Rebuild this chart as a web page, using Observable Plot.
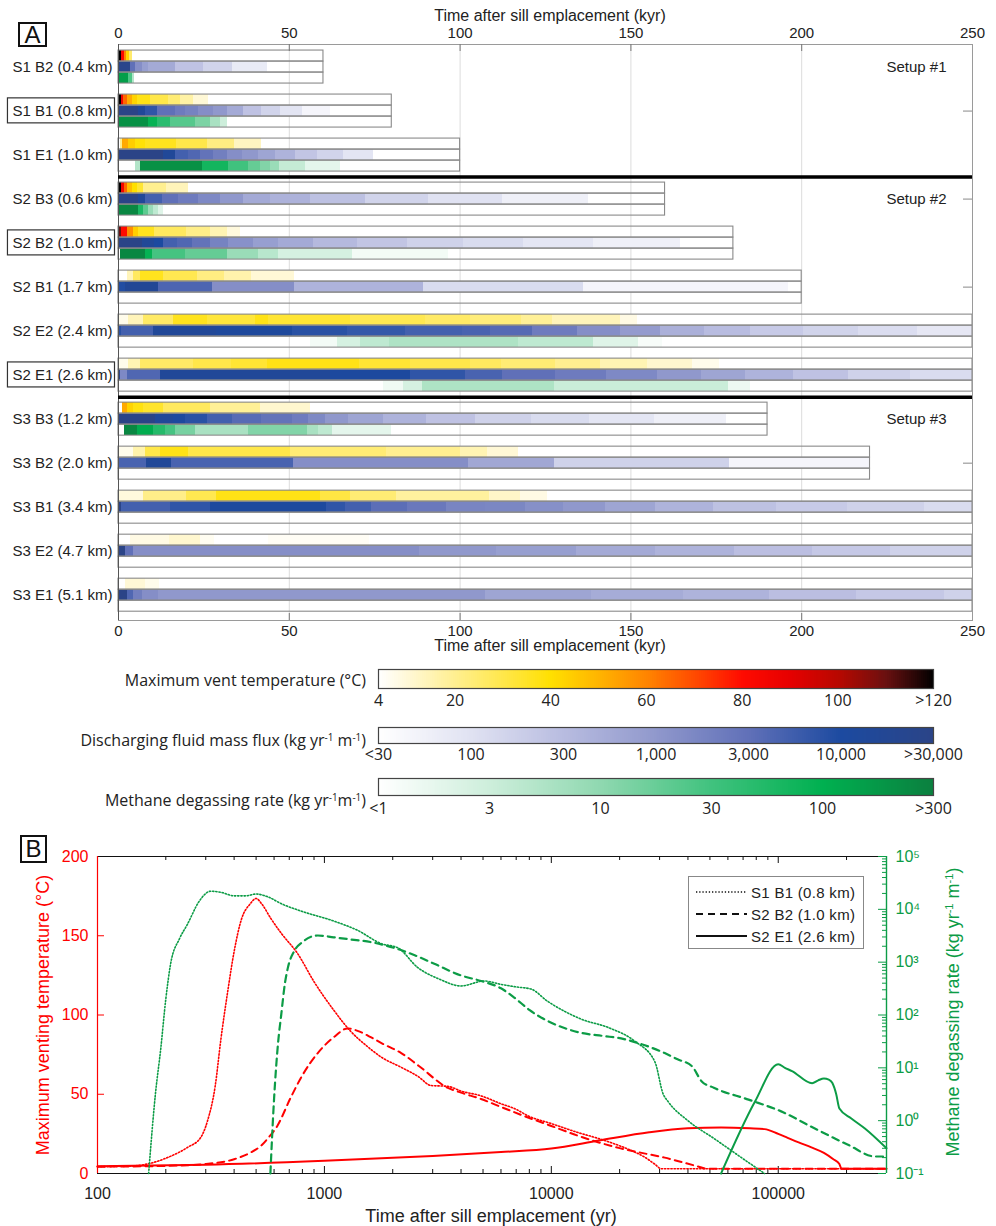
<!DOCTYPE html>
<html><head><meta charset="utf-8">
<script src="https://cdn.jsdelivr.net/npm/d3@7"></script>
<script src="https://cdn.jsdelivr.net/npm/@observablehq/plot@0.6"></script>
<style>
html,body{margin:0;padding:0;background:#fff;}
#root{position:relative;width:996px;height:1226px;overflow:hidden;background:#fff;}
#root svg{position:absolute;max-width:none;}
sup{font-size:0.62em;line-height:0;vertical-align:0.55em;}
</style></head>
<body><div id="root"></div>
<script>
// ================= DATA =================
const simNames = ["S1 B2 (0.4 km)","S1 B1 (0.8 km)","S1 E1 (1.0 km)","S2 B3 (0.6 km)","S2 B2 (1.0 km)","S2 B1 (1.7 km)","S2 E2 (2.4 km)","S2 E1 (2.6 km)","S3 B3 (1.2 km)","S3 B2 (2.0 km)","S3 B1 (3.4 km)","S3 E2 (4.7 km)","S3 E1 (5.1 km)"];
const simEnds = [60,80,100,160,180,200,250,250,190,220,250,250,250];
const boxedSims = ["S1 B1 (0.8 km)","S2 B2 (1.0 km)","S2 E1 (2.6 km)"];
const setupNames = ["Setup #1","Setup #2","Setup #3"];
const setupFirstSim = [0,3,8];
const setupBreaks = [3,8];
const rightTickSims = [1,3,5,9];
const kyrTicks = [0,50,100,150,200,250];

// [sim, start kyr, end kyr, max vent temperature °C]
const tempSegs = [
 [0,0,0.9,125],[0,0.9,1.8,82],[0,1.8,2.4,60],[0,2.4,3.2,42],[0,3.2,4.1,25],
 [1,0,0.4,8],[1,0.4,0.9,125],[1,0.9,1.6,85],[1,1.6,2.5,65],[1,2.5,4,52],[1,4,5.5,43],[1,5.5,9.4,37],[1,9.4,14.7,30],[1,14.7,18.1,24],[1,18.1,22,17],[1,22,26.4,10],
 [2,0.6,1.2,20],[2,1.2,3,52],[2,3,5,44],[2,5,8,39],[2,8,17,36],[2,17,26,30],[2,26,34,22],[2,34,42,13],
 [3,0,0.9,125],[3,0.9,1.7,85],[3,1.7,2.5,65],[3,2.5,4,48],[3,4,5.5,40],[3,5.5,7.4,33],[3,7.4,14,20],[3,14,20.6,14],
 [4,0.4,1.0,110],[4,1.0,2.5,80],[4,2.5,4.4,58],[4,4.4,6,44],[4,6,10.4,36],[4,10.4,20,27],[4,20,27,21],[4,27,31.8,15],[4,31.8,35.7,9],
 [5,2.5,4.5,14],[5,4.5,6.4,27],[5,6.4,13.3,36],[5,13.3,23,29],[5,23,31,22],[5,31,39,16],[5,39,51.5,10],
 [6,0,3,7],[6,3,7.4,14],[6,7.4,16,26],[6,16,26,36],[6,26,40,32],[6,40,44,37],[6,44,68,33],[6,68,90,29],[6,90,103,26],[6,103,118,23],[6,118,127,19],[6,127,147,14],[6,147,152,8],
 [7,0,3,7],[7,3,6.4,15],[7,6.4,22,26],[7,22,33,30],[7,33,43.6,33],[7,43.6,70.5,37],[7,70.5,85.6,33],[7,85.6,103,30],[7,103,112,27],[7,112,128,24],[7,128,141,20],[7,141,155,15],[7,155,168,11],[7,168,176,7],
 [8,1.07,2.6,52],[8,2.6,4.5,43],[8,4.5,7.4,38],[8,7.4,13.3,34],[8,13.3,27,27],[8,27,41.6,19],[8,41.6,56.2,11],
 [9,0,4.5,7],[9,4.5,8,16],[9,8,12.3,30],[9,12.3,20.6,37],[9,20.6,50.3,30],[9,50.3,78.6,24],[9,78.6,100,20],[9,100,108,15],[9,108,117,10],
 [10,0,7.4,9],[10,7.4,20,21],[10,20,28.8,29],[10,28.8,59,37],[10,59,67.8,31],[10,67.8,81.4,24],[10,81.4,108.7,18],[10,108.7,117.7,12],[10,117.7,125.5,8],
 [11,3.5,15,8],[11,15,24,11],[11,24,28,6],[11,44,73.5,5.5],
 [12,2,8,10],[12,8,12,7]
];
// [sim, start kyr, end kyr, discharging fluid mass flux kg/yr/m]
const fluxSegs = [
 [0,0,3.5,25000],[0,3.5,5,3000],[0,5,6.9,1300],[0,6.9,8.9,800],[0,8.9,16.7,550],[0,16.7,25,250],[0,25,33.3,150],[0,33.3,43.5,70],
 [1,0,5.95,30000],[1,5.95,7.9,14000],[1,7.9,11.3,7000],[1,11.3,16.7,3000],[1,16.7,19.6,2200],[1,19.6,23.5,1800],[1,23.5,27.9,1300],[1,27.9,31.8,1000],[1,31.8,36.7,550],[1,36.7,42,250],[1,42,47.4,150],[1,47.4,53.8,90],[1,53.8,62,45],
 [2,0,13.3,30000],[2,13.3,16.7,14000],[2,16.7,20.6,5000],[2,20.6,24,4000],[2,24,27.9,2800],[2,27.9,31.8,2000],[2,31.8,36.2,1300],[2,36.2,41.1,1000],[2,41.1,45.9,650],[2,45.9,51.8,400],[2,51.8,58.2,230],[2,58.2,66,150],[2,66,74.7,90],
 [3,0,6,30000],[3,6,7.9,14000],[3,7.9,12.8,5000],[3,12.8,17.7,3000],[3,17.7,23.5,2200],[3,23.5,29.9,1500],[3,29.9,36.7,1000],[3,36.7,44.5,550],[3,44.5,56.2,420],[3,56.2,72.3,260],[3,72.3,90.8,150],[3,90.8,112.3,100],[3,112.3,137.5,55],
 [4,0,6.9,30000],[4,6.9,10.4,15000],[4,10.4,13.3,10000],[4,13.3,17.2,5000],[4,17.2,21.6,4000],[4,21.6,27,2800],[4,27,32.3,1800],[4,32.3,39.6,1200],[4,39.6,46.9,800],[4,46.9,57.1,550],[4,57.1,69.9,330],[4,69.9,84.5,230],[4,84.5,101,160],[4,101,118.7,120],[4,118.7,139,85],[4,139,164.5,55],
 [5,0,2,9000],[5,2,11.8,16000],[5,11.8,27.4,4200],[5,27.4,51.6,1300],[5,51.6,89.4,400],[5,89.4,136.2,120],[5,136.2,196,45],
 [6,0,1,8000],[6,1,10.3,5000],[6,10.3,28.8,14000],[6,28.8,50.8,12000],[6,50.8,66.9,8000],[6,66.9,84,6500],[6,84,100.6,5000],[6,100.6,108.9,4500],[6,108.9,121.1,3600],[6,121.1,134.3,2200],[6,134.3,147,1300],[6,147,158.7,900],[6,158.7,171.4,450],[6,171.4,185,300],[6,185,200.6,200],[6,200.6,216.7,150],[6,216.7,233.8,115],[6,233.8,250,80],
 [7,0,0.6,30000],[7,0.6,2.5,1500],[7,2.5,12.3,4000],[7,12.3,62,14000],[7,62,85.6,11000],[7,85.6,101.7,7000],[7,101.7,112.3,4500],[7,112.3,127.9,3000],[7,127.9,143,2200],[7,143,157.7,1500],[7,157.7,170.8,1000],[7,170.8,183.6,650],[7,183.6,197.7,400],[7,197.7,213.8,250],[7,213.8,231.9,160],[7,231.9,250,120],
 [8,0,10.8,30000],[8,10.8,16.2,14000],[8,16.2,19.6,11000],[8,19.6,26,8000],[8,26,33.3,5000],[8,33.3,42,3500],[8,42,50.8,2800],[8,50.8,55.7,2200],[8,55.7,60.5,1500],[8,60.5,67.4,1000],[8,67.4,77.6,650],[8,77.6,90.3,400],[8,90.3,104.5,250],[8,104.5,121,160],[8,121,138,120],[8,138,157,85],[8,157,178,55],
 [9,0,8.2,4500],[9,8.2,15.5,14000],[9,15.5,51.3,4500],[9,51.3,102.5,1300],[9,102.5,127.6,600],[9,127.6,178.9,160],[9,178.9,220,45],
 [10,0,1,30000],[10,1,15.2,5000],[10,15.2,26.9,7000],[10,26.9,61,11000],[10,61,66.4,7000],[10,66.4,74.2,5000],[10,74.2,84.5,3200],[10,84.5,96.1,2400],[10,96.1,107.4,1700],[10,107.4,119.1,1600],[10,119.1,130.3,1250],[10,130.3,142.6,1000],[10,142.6,157.2,650],[10,157.2,174.1,400],[10,174.1,192.7,260],[10,192.7,213.4,200],[10,213.4,235.9,160],[10,235.9,250,120],
 [11,0,2,30000],[11,2,4.5,3000],[11,4.5,88,1300],[11,88,110.7,1000],[11,110.7,134.1,800],[11,134.1,157.2,550],[11,157.2,180.2,400],[11,180.2,203.1,280],[11,203.1,226,210],[11,226,250,160],
 [12,0,2.5,30000],[12,2.5,4.5,4000],[12,4.5,6.9,2000],[12,6.9,11.8,1300],[12,11.8,107.5,1000],[12,107.5,138.4,650],[12,138.4,165.5,520],[12,165.5,190.7,400],[12,190.7,216,280],[12,216,241.7,210],[12,241.7,250,160]
];
// [sim, start kyr, end kyr, methane degassing rate kg/yr/m]
const methSegs = [
 [0,0,3,150],[0,3,4,25],[0,4,4.7,5],
 [1,0,8.9,200],[1,8.9,11.3,90],[1,11.3,15.2,45],[1,15.2,22.5,22],[1,22.5,26.9,13],[1,26.9,29.9,6],[1,29.9,31.8,3],
 [2,5,6.4,5],[2,6.4,24.5,200],[2,24.5,32.3,70],[2,32.3,38.2,30],[2,38.2,41.6,18],[2,41.6,44.5,12],[2,44.5,47,8],[2,47,54.8,3.5],[2,54.8,65,1.8],
 [3,0,6,250],[3,6,7.4,60],[3,7.4,8.9,20],[3,8.9,10.3,8],[3,10.3,11.8,4],[3,11.8,13.3,2],
 [4,0.6,7.9,250],[4,7.9,9.9,90],[4,9.9,19.6,28],[4,19.6,31.8,18],[4,31.8,41,8],[4,41,46.9,4.5],[4,46.9,68.4,2.5],[4,68.4,96.7,1.3],
 [6,56.2,64,1.3],[6,64,70.9,2.5],[6,70.9,79.2,4],[6,79.2,117.2,5.5],[6,117.2,139.1,4],[6,139.1,152.3,2],[6,152.3,159.2,1.2],
 [7,77.7,83.5,1.4],[7,83.5,88.9,2.5],[7,88.9,127.6,5.5],[7,127.6,178.7,3.2],[7,178.7,185,1.5],
 [8,1.76,5.5,250],[8,5.5,10.3,110],[8,10.3,13.7,50],[8,13.7,16.7,28],[8,16.7,22.5,14],[8,22.5,38.2,6],[8,38.2,55.2,12],[8,55.2,58.6,6],[8,58.6,62.5,4],[8,62.5,80,1.8]
];

// colour bars (legend ticks)
const tempStops  = [4,10,20,30,40,50,60,70,80,90,100,110,120];
const tempColors = ["#ffffff","#fff8d6","#ffef90","#ffe74a","#ffe000","#ffb400","#ff8400","#ff4a00","#ff0a00","#e60000","#b80800","#6a1010","#000000"];
const tempTickVals = [4,20,40,60,80,100,120];
const tempTickLabels = ["4","20","40","60","80","100",">120"];
const fluxTickVals = [30,100,300,1000,3000,10000,30000];
const fluxTickLabels = ["<30","100","300","1,000","3,000","10,000",">30,000"];
const fluxColors = ["#ffffff","#e0e2f2","#b8bce0","#9098cc","#6070b8","#1c4aa0","#2b4487"];
const methTickVals = [1,3,10,30,100,300];
const methTickLabels = ["<1","3","10","30","100",">300"];
const methColors = ["#ffffff","#cdeedb","#8fd8b0","#40c27e","#00b050","#0b7f3f"];

// Panel B curves: [time yr, value]
const tempS1B1 = [[100,4.3],[130,4.5],[150,5],[166,6],[203,10],[249,16.4],[285,22.7],[305,33],[330,55],[350,85],[375,115],[400,140],[430,160],[470,170],[500,173.5],[530,170],[580,161],[650,151],[760,139],[900,121],[1100,103],[1300,90],[1550,80],[1800,73],[2180,67],[2600,61],[2950,55.5],[3500,55],[4000,52],[4900,49],[6000,44],[6870,41],[8000,36],[10000,31.5],[13000,26],[16200,22],[20000,17.5],[22500,14.5],[26000,10],[28500,6],[30600,3],[300000,3]];
const tempS2B2 = [[100,4.3],[200,4.8],[300,6],[400,9],[470,13],[530,18],[562,22],[620,30],[711,48],[800,62],[935,76],[1100,86],[1265,91.5],[1400,90],[1600,86],[1800,82],[2180,76],[2600,68],[3500,54],[4000,51],[4900,47],[6000,42],[8000,35],[10000,30],[13000,24],[16200,19.6],[20000,16],[25000,13],[31600,10],[38000,7],[45900,3.8],[48000,3],[300000,3]];
const tempS2E1 = [[100,4.5],[300,5.5],[1000,8],[3000,11],[6000,13.5],[10000,15.8],[16200,20.8],[27000,26],[40000,28.5],[56000,29],[75000,28.5],[87000,28],[100000,25],[110000,22.5],[123000,19.6],[140000,16.5],[159000,13],[175000,9],[186000,6],[190000,3],[300000,3]];
const methS1B1 = [[168,0.1],[180,3.2],[190,23],[200,200],[210,930],[230,2800],[249,5200],[280,14000],[315,22000],[350,21000],[400,18000],[450,18000],[500,19500],[560,17400],[650,12600],[787,9300],[1100,6000],[1400,4000],[1780,2240],[2110,1860],[2570,800],[3200,480],[4000,355],[5070,440],[6000,380],[7000,340],[8130,310],[9660,180],[11450,117],[13600,83],[17800,58],[23300,32],[28600,13],[31100,3.2],[32700,2.3],[40000,1.0],[52500,0.45],[70000,0.19],[87000,0.1]];
const methS2B2 = [[578,0.1],[600,2.6],[625,30],[645,100],[670,400],[690,780],[735,1600],[800,2400],[935,3200],[1100,2950],[1300,2700],[1600,2400],[2030,1860],[2500,1350],[3050,930],[4000,560],[4900,440],[6000,320],[6900,210],[8000,125],[9700,76],[11500,56],[13500,46],[17000,40],[20300,36],[25000,28],[31600,19],[36000,14.5],[41700,10.7],[45900,5.6],[52000,4.2],[74000,2.5],[103000,1.5],[145000,0.71],[203000,0.35],[267000,0.21],[300000,0.21]];
const methS2E1 = [[56000,0.1],[79000,2.3],[100000,11.7],[107000,10],[115000,8.7],[141000,5.1],[150000,5.8],[159000,6.3],[167000,6.0],[173000,5.2],[180000,3.2],[186000,1.7],[210000,1.1],[241000,0.71],[300000,0.3]];
const yrMajor = [100,1000,10000,100000];
const yrMinor = [200,300,400,500,600,700,800,900,2000,3000,4000,5000,6000,7000,8000,9000,20000,30000,40000,50000,60000,70000,80000,90000,200000];
const tempTicks = [0,50,100,150,200];
const methDecades = [0.1,1,10,100,1000,10000,100000];
const methMinorFactors = [2,3,4,5,6,7,8,9];
const legendNames = ["S1 B1 (0.8 km)","S2 B2 (1.0 km)","S2 E1 (2.6 km)"];

// ================= STYLE / HELPERS =================
const FONT = '"Liberation Sans", Arial, Helvetica, sans-serif';
const FONT2 = '"Open Sans", "Liberation Sans", sans-serif';
const RED = "#ff0000", GREEN = "#0c9c46";
const root = document.getElementById("root");
function put(node, left, top){ node.style.left = left+"px"; node.style.top = top+"px"; root.appendChild(node); return node; }
function txt(html, x, y, {size=15, color="#222", anchor="center", rotate=0, family=FONT}={}){
  const d = document.createElement("div");
  d.innerHTML = html;
  d.style.cssText = `position:absolute;left:${x}px;top:${y}px;font-size:${size}px;color:${color};font-family:${family};line-height:1;white-space:nowrap;`;
  const tx = anchor==="center" ? "-50%" : anchor==="end" ? "-100%" : "0";
  d.style.transform = `translate(${tx},-50%)` + (rotate ? ` rotate(${rotate}deg)` : "");
  root.appendChild(d); return d;
}
function boxLetter(ch, x, y, w, h){
  const d = document.createElement("div");
  d.textContent = ch;
  d.style.cssText = `position:absolute;left:${x}px;top:${y}px;width:${w-4}px;height:${h-4}px;border:2px solid #111;font-family:${FONT};font-size:24px;line-height:${h-4}px;text-align:center;color:#111;`;
  root.appendChild(d);
}

const tempColor = d3.scaleLinear().domain(tempStops).range(tempColors).clamp(true);
const fluxPos = d3.scaleLog().domain(fluxTickVals).range(fluxTickVals.map((d,i)=>i/(fluxTickVals.length-1))).clamp(true);
const fluxRamp = d3.scaleLinear().domain(fluxTickVals.map((d,i)=>i/(fluxTickVals.length-1))).range(fluxColors).clamp(true);
const methPos = d3.scaleLog().domain(methTickVals).range(methTickVals.map((d,i)=>i/(methTickVals.length-1))).clamp(true);
const methRamp = d3.scaleLinear().domain(methTickVals.map((d,i)=>i/(methTickVals.length-1))).range(methColors).clamp(true);

// ================= PANEL A =================
const rowPx = 11;
const yDom = [-0.55, 51.8];
const pxPerKyr = (972-118)/250;
const segs = [
  ...tempSegs.map(([s,a,b,v]) => ({x1:a, x2:b, y1:s*4,   y2:s*4+1, fill: tempColor(v)})),
  ...fluxSegs.map(([s,a,b,v]) => ({x1:a, x2:b, y1:s*4+1, y2:s*4+2, fill: fluxRamp(fluxPos(v))})),
  ...methSegs.map(([s,a,b,v]) => ({x1:a, x2:b, y1:s*4+2, y2:s*4+3, fill: methRamp(methPos(v))}))
];
const outlines = simEnds.flatMap((e,i) => [0,1,2].map(j => ({x2:e, y1:i*4+j, y2:i*4+j+1})));
const inner = kyrTicks.slice(1,-1);

const svgA = Plot.plot({
  width: 996, height: 660,
  marginLeft: 118, marginRight: 24, marginTop: 44, marginBottom: 40,
  x: {domain: [0,250]},
  y: {domain: yDom, reverse: true, axis: null},
  style: {fontFamily: FONT, fontSize: "15px", background: "transparent", color: "#222", overflow: "visible"},
  marks: [
    Plot.ruleX(inner, {x: d=>d, stroke: "#dcdcdc", strokeWidth: 1}),
    Plot.rect(segs, {x1:"x1", x2:"x2", y1:"y1", y2:"y2", fill:"fill", shapeRendering:"crispEdges"}),
    Plot.rect(outlines, {x1: ()=>0, x2:"x2", y1:"y1", y2:"y2", fill:"none", stroke:"#8a8a8a", strokeWidth:1.1}),
    Plot.frame({stroke:"#9a9a9a"}),
    Plot.ruleX([0], {stroke:"#555"}),
    Plot.ruleY(setupBreaks, {y: d=>d*4-0.5, stroke:"#000", strokeWidth:3.5}),
    Plot.ruleX(inner, {x:d=>d, y1: ()=>yDom[0], y2: ()=>yDom[0]+7/rowPx, stroke:"#777"}),
    Plot.ruleX(inner, {x:d=>d, y1: ()=>yDom[1]-7/rowPx, y2: ()=>yDom[1], stroke:"#777"}),
    Plot.ruleY(rightTickSims, {y: d=>d*4+1.5, x1: ()=>250-9/pxPerKyr, x2: ()=>250, stroke:"#888"}),
    Plot.axisX({anchor:"top", ticks: kyrTicks, tickSize: 0, tickPadding: 7, fontSize: 15, label: null}),
    Plot.axisX({anchor:"bottom", ticks: kyrTicks, tickSize: 0, tickPadding: 5, fontSize: 15, label: null}),
    Plot.text(simNames, {x: ()=>0, y: (d,i)=>i*4+1.5, text: d=>d, textAnchor: "end", dx: -6, fontSize: 15}),
    Plot.text(setupNames, {x: ()=>250, y: (d,i)=>setupFirstSim[i]*4+1.5, text: d=>d, textAnchor: "end", dx: -26, fontSize: 15})
  ]
});
put(svgA, 0, 0);
// boxes around the highlighted simulation labels
svgA.querySelectorAll("text").forEach(t => {
  if (boxedSims.includes(t.textContent)) {
    const b = t.getBBox();
    const r = document.createElementNS("http://www.w3.org/2000/svg","rect");
    r.setAttribute("x", b.x-5); r.setAttribute("y", b.y + b.height/2 - 12.5);
    r.setAttribute("width", b.width+7); r.setAttribute("height", 25);
    r.setAttribute("fill","none"); r.setAttribute("stroke","#333"); r.setAttribute("stroke-width","1.2");
    const tr = t.getAttribute("transform"); if (tr) r.setAttribute("transform", tr);
    t.parentNode.insertBefore(r, t);
  }
});
boxLetter("A", 18, 22, 29, 25);
txt("Time after sill emplacement (kyr)", 550, 16, {size:16});
txt("Time after sill emplacement (kyr)", 550, 646, {size:16});

// ================= COLOUR BARS =================
const rampSteps = d3.range(0, 1, 1/280);
function colorbar(rampFn, tickPos, tickLabels, top, barH, pad){
  const H = barH + 1 + 28;
  const labelMap = new Map(tickPos.map((p,i)=>[p, tickLabels[i]]));
  const svg = Plot.plot({
    width: 996, height: H,
    marginLeft: 378, marginRight: 63, marginTop: 1, marginBottom: H-1-barH,
    x: {domain:[0,1]}, y: {domain:[0,1], axis:null},
    style: {fontFamily: FONT2, background:"transparent", color:"#222", overflow:"visible"},
    marks: [
      Plot.rect(rampSteps, {x1: d=>d, x2: d=>Math.min(1, d+1/280+0.002), y1: ()=>0, y2: ()=>1, fill: d=>rampFn(d), shapeRendering:"crispEdges"}),
      Plot.frame({stroke:"#444", strokeWidth:1.2}),
      Plot.axisX({anchor:"bottom", ticks: tickPos, tickFormat: d=>labelMap.get(d), tickSize:0, tickPadding: pad, fontSize: 16, label:null})
    ]
  });
  put(svg, 0, top);
}
colorbar(t => tempColor(4 + t*116), tempTickVals.map(v => (v-4)/116), tempTickLabels, 668, 19, 6);
colorbar(t => fluxRamp(t), fluxTickVals.map((d,i)=>i/(fluxTickVals.length-1)), fluxTickLabels, 726, 16, 5);
colorbar(t => methRamp(t), methTickVals.map((d,i)=>i/(methTickVals.length-1)), methTickLabels, 777, 17, 7);
txt("Maximum vent temperature (°C)", 366, 680, {size:16, anchor:"end", family:FONT2});
txt("Discharging fluid mass flux (kg yr<sup>-1</sup> m<sup>-1</sup>)", 366, 740, {size:16, anchor:"end", family:FONT2});
txt("Methane degassing rate (kg yr<sup>-1</sup>m<sup>-1</sup>)", 366, 800, {size:16, anchor:"end", family:FONT2});

// ================= PANEL B =================
const BW = 996, BH = 396, BL = 97, BR = 110, BT = 26, BB = 53;
const plotH = BH - BT - BB;              // 317 px
const decadePx = (BW - BL - BR) / Math.log10(3e5/100);
const yPerPx = 200 / plotH;
const common = {
  width: BW, height: BH, marginLeft: BL, marginRight: BR, marginTop: BT, marginBottom: BB,
  style: {fontFamily: FONT, fontSize:"16px", background:"transparent", color:"#222", overflow:"visible"}
};
const xy = {x: d=>d[0], y: d=>d[1]};
const svgB1 = Plot.plot({
  ...common,
  x: {type:"log", domain:[100, 3e5]},
  y: {domain:[0,200]},
  marks: [
    Plot.ruleX(yrMajor, {x:d=>d, y1:()=>0, y2:()=>7*yPerPx, stroke:"#111"}),
    Plot.ruleX(yrMinor, {x:d=>d, y1:()=>0, y2:()=>4*yPerPx, stroke:"#111"}),
    Plot.ruleX(yrMajor, {x:d=>d, y1:()=>200-7*yPerPx, y2:()=>200, stroke:"#111"}),
    Plot.ruleX(yrMinor, {x:d=>d, y1:()=>200-4*yPerPx, y2:()=>200, stroke:"#111"}),
    Plot.ruleY(tempTicks, {y:d=>d, x1:()=>100, x2:()=>100*Math.pow(10, 7/decadePx), stroke:RED}),
    Plot.ruleY([200], {stroke:"#111"}),
    Plot.ruleY([0], {stroke:"#111", strokeWidth:1.2}),
    Plot.ruleX([100], {stroke:RED, strokeWidth:1.2}),
    Plot.line(tempS2E1, {...xy, stroke:RED, strokeWidth:2, curve:"monotone-x"}),
    Plot.line(tempS2B2, {...xy, stroke:RED, strokeWidth:2, strokeDasharray:"7,5", curve:"monotone-x"}),
    Plot.line(tempS1B1, {...xy, stroke:RED, strokeWidth:1.6, strokeDasharray:"1.3,1.9", curve:"monotone-x"}),
    Plot.axisX({anchor:"bottom", ticks: yrMajor, tickFormat: d=>String(d), tickSize:0, tickPadding:14, fontSize:16, label:null}),
    Plot.axisY({anchor:"left", ticks: tempTicks, tickSize:0, tickPadding:9, fontSize:16, color:RED, label:null})
  ]
});
put(svgB1, 0, 830);

const supMap = {"-":"⁻","0":"⁰","1":"¹","2":"²","3":"³","4":"⁴","5":"⁵","6":"⁶","7":"⁷","8":"⁸","9":"⁹"};
const supFmt = d => "10" + String(Math.round(Math.log10(d))).split("").map(c=>supMap[c]).join("");
const methMinor = methDecades.slice(0,-1).flatMap(d => methMinorFactors.map(f => d*f));
const svgB2 = Plot.plot({
  ...common,
  x: {type:"log", domain:[100, 3e5], axis: null},
  y: {type:"log", domain:[0.1, 1e5]},
  marks: [
    Plot.ruleY(methDecades, {y:d=>d, x1:()=>3e5/Math.pow(10, 8/decadePx), x2:()=>3e5, stroke:GREEN}),
    Plot.ruleY(methMinor, {y:d=>d, x1:()=>3e5/Math.pow(10, 4/decadePx), x2:()=>3e5, stroke:GREEN}),
    Plot.ruleX([3e5], {stroke:GREEN, strokeWidth:1.4}),
    Plot.line(methS2E1, {...xy, stroke:GREEN, strokeWidth:2, curve:"monotone-x"}),
    Plot.line(methS2B2, {...xy, stroke:GREEN, strokeWidth:2.2, strokeDasharray:"7,5", curve:"monotone-x"}),
    Plot.line(methS1B1, {...xy, stroke:GREEN, strokeWidth:1.6, strokeDasharray:"1.3,1.9", curve:"monotone-x"}),
    Plot.axisY({anchor:"right", ticks: methDecades, tickFormat: supFmt, tickSize:0, tickPadding:9, fontSize:16, color:GREEN, label:null})
  ]
});
put(svgB2, 0, 830);

boxLetter("B", 20, 835, 27, 28);
txt("Time after sill emplacement (yr)", 491, 1216, {size:18});
txt("Maximum venting temperature (°C)", 43, 1015, {size:18, color:RED, rotate:-90});
txt("Methane degassing rate (kg yr<sup>-1</sup> m<sup>-1</sup>)", 953, 1012, {size:18, color:GREEN, rotate:-90});

// legend box (panel B)
const leg = document.createElement("div");
leg.style.cssText = "position:absolute;left:688px;top:876px;width:174px;height:71px;border:1px solid #888;background:#fff;";
root.appendChild(leg);
const dashes = ["1.3,1.9","7,5",""];
legendNames.forEach((n,i) => {
  const cy = 15 + i*22;
  const s = document.createElementNS("http://www.w3.org/2000/svg","svg");
  s.setAttribute("width", 60); s.setAttribute("height", 10);
  s.style.cssText = `position:absolute;left:6px;top:${cy-5}px;`;
  const l = document.createElementNS("http://www.w3.org/2000/svg","line");
  l.setAttribute("x1",1); l.setAttribute("x2",52); l.setAttribute("y1",5); l.setAttribute("y2",5);
  l.setAttribute("stroke","#111"); l.setAttribute("stroke-width", i===0?1.6:2);
  if (dashes[i]) l.setAttribute("stroke-dasharray", dashes[i]);
  s.appendChild(l); leg.appendChild(s);
  const t = document.createElement("div");
  t.textContent = n;
  t.style.cssText = `position:absolute;left:62px;top:${cy}px;transform:translateY(-50%);font-family:${FONT};font-size:15px;line-height:1;color:#222;white-space:nowrap;letter-spacing:0.3px;`;
  leg.appendChild(t);
});
</script>
</body></html>
